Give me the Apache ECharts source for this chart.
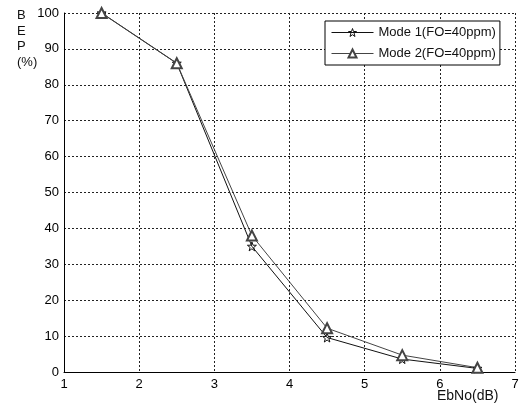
<!DOCTYPE html>
<html>
<head>
<meta charset="utf-8">
<script src="https://cdn.jsdelivr.net/npm/echarts@6/dist/echarts.min.js"></script>
<style>
html, body { margin: 0; padding: 0; background: #fff; }
#main { width: 529px; height: 408px; }
</style>
</head>
<body>
<div id="main"></div>
<script>
// values
var ebno = [1.5, 2.5, 3.5, 4.5, 5.5, 6.5]
var mode1 = [100, 86, 35, 9.6, 3.6, 1.0]
var mode2 = [100, 86, 38, 12.2, 4.7, 1.2]
var seriesNames = ['Mode 1(FO=40ppm)', 'Mode 2(FO=40ppm)']

var starPath = 'path://M50 0 L61.8 33.8 L97.6 34.5 L69 56.2 L79.4 90.5 L50 70 L20.6 90.5 L31 56.2 L2.4 34.5 L38.2 33.8 Z'
var font = 'Liberation Sans, Arial, sans-serif'

function pairs(xs, ys) {
  return xs.map(function (x, i) { return [x, ys[i]] })
}

var chart = echarts.init(document.getElementById('main'))
chart.setOption({
  animation: false,
  backgroundColor: '#fff',
  grid: { left: 64, right: 14, top: 13, bottom: 36 },
  legend: {
    left: 325,
    top: 21,
    orient: 'vertical',
    backgroundColor: '#fff',
    borderColor: '#000',
    borderWidth: 1,
    borderRadius: 0,
    padding: [5, 4, 5, 6],
    itemGap: 8,
    itemWidth: 42,
    itemHeight: 10,
    lineStyle: { width: 1 },
    itemStyle: { borderWidth: 1 },
    textStyle: { fontFamily: font, fontSize: 13, color: '#111' },
    data: seriesNames
  },
  xAxis: {
    type: 'value',
    min: 1,
    max: 7,
    interval: 1,
    axisLine: { lineStyle: { color: '#000', width: 1 } },
    axisTick: { show: false },
    axisLabel: { color: '#000', fontFamily: font, fontSize: 13, margin: 6 },
    splitLine: { show: true, lineStyle: { color: '#222', type: [2, 2], width: 1 } }
  },
  yAxis: {
    type: 'value',
    min: 0,
    max: 100,
    interval: 10,
    axisLine: { show: true, lineStyle: { color: '#000', width: 1 } },
    axisTick: { show: false },
    axisLabel: { color: '#000', fontFamily: font, fontSize: 13, margin: 5 },
    splitLine: { show: true, lineStyle: { color: '#222', type: [2, 2], width: 1 } }
  },
  graphic: [
    {
      type: 'text', left: 17, top: 8,
      style: { text: 'B\nE\nP\n(%)', font: '13px ' + font, fill: '#111', lineHeight: 15.5 }
    },
    {
      type: 'text', left: 437, top: 389,
      style: { text: 'EbNo(dB)', font: '14px ' + font, fill: '#111' }
    }
  ],
  series: [
    {
      name: seriesNames[0],
      type: 'line',
      data: pairs(ebno, mode1),
      symbol: starPath,
      symbolSize: 9,
      lineStyle: { color: '#111', width: 1 },
      itemStyle: { color: 'rgba(255,255,255,0)', borderColor: '#111', borderWidth: 1 }
    },
    {
      name: seriesNames[1],
      type: 'line',
      data: pairs(ebno, mode2),
      symbol: 'emptyTriangle',
      symbolSize: 10,
      lineStyle: { color: '#444', width: 1 },
      itemStyle: { color: '#444', borderColor: '#333', borderWidth: 1 }
    }
  ]
})
</script>
</body>
</html>
